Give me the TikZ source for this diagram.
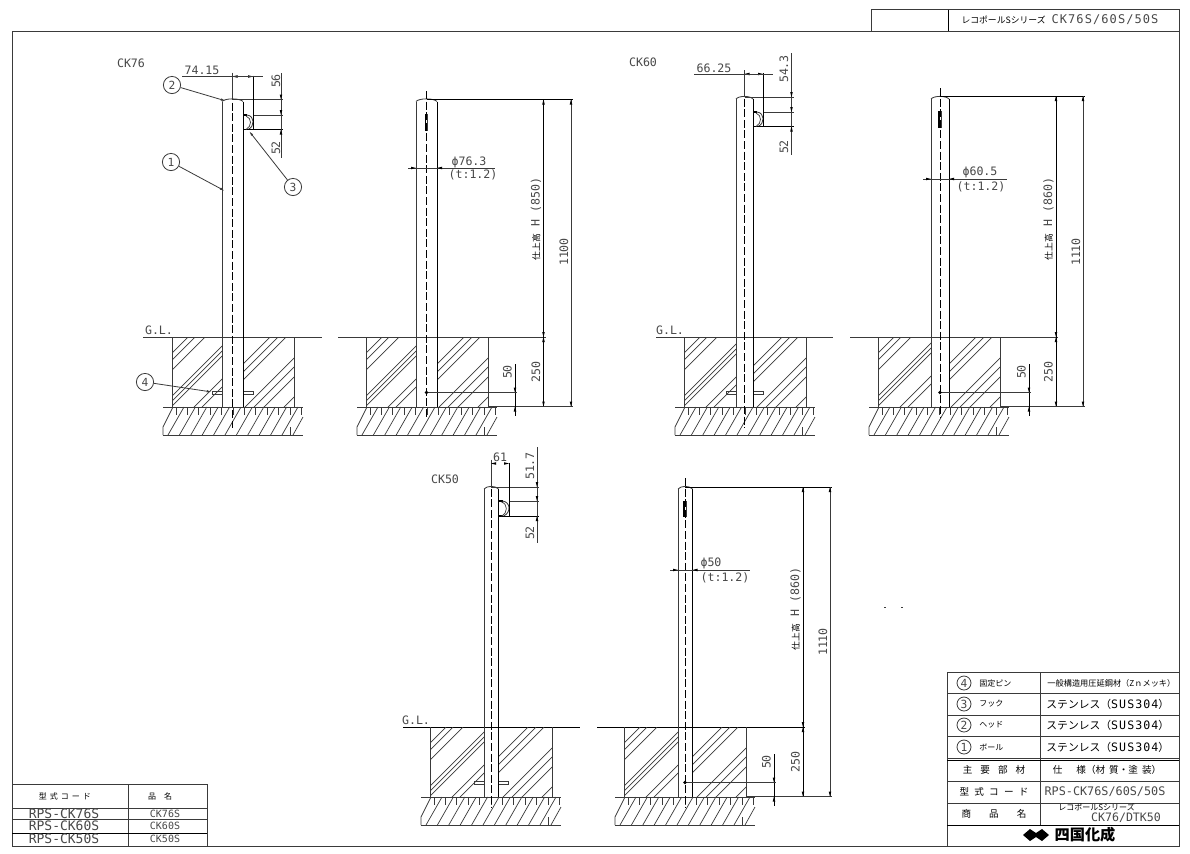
\documentclass[tikz,border=0pt]{standalone}
\usepackage{fontspec}
\usetikzlibrary{arrows.meta}
\setmainfont{DejaVu Sans Mono}
\newfontfamily\cjk{Noto Sans CJK JP}
\newfontfamily\wide[LetterSpace=9]{DejaVu Sans Mono}
\definecolor{ln}{HTML}{3A3A3A}
\definecolor{tx}{HTML}{484848}
\newcounter{tn}
\tikzset{
  base/.style={draw=ln,line width=0.42pt},
  dark/.style={draw=black,line width=0.42pt},
  thin line/.style={draw=ln,line width=0.35pt},
  chain/.style={draw=black,line width=0.5pt,dash pattern=on 4pt off 1.3pt},
  txt/.style={text=tx,inner sep=0pt,font=\fontsize{5.8}{6}\selectfont},
  small/.style={text=tx,inner sep=0pt,font=\fontsize{5}{5}\selectfont},
  jp/.style={text=black,inner sep=0pt,font=\cjk\fontsize{4.8}{5}\selectfont},
  jps/.style={text=black,inner sep=0pt,font=\cjk\fontsize{4}{4.6}\selectfont},
  balloon/.style={circle,draw=ln,line width=0.4pt,inner sep=0pt,minimum size=8.6pt,text=tx,font=\fontsize{5.6}{6}\selectfont},
  lead/.style={draw=ln,line width=0.4pt,-{Latex[length=2.6pt,width=1.2pt]}}
}
\newcommand\Txt[4]{\stepcounter{tn}\node[#3,name=t\arabic{tn}] at (#1,#2) {#4};}
\newcommand\ArrV[3]{\fill[black] (#1,#2) -- (#1-1.3,#2-#3*5) -- (#1+1.3,#2-#3*5) -- cycle;}
\newcommand\ArrH[3]{\fill[black] (#1,#2) -- (#1-#3*5,#2-1.3) -- (#1-#3*5,#2+1.3) -- cycle;}
% concrete block, hatching, ground: concL poleL poleR yGL
\newcommand\BaseB[4]{
  \begin{scope}
    \clip (#1,#4) rectangle (#2,#4+70);
    \foreach \s in {16,23,33,59,64,69,92,100}
      \draw[thin line] (#1+\s,#4) -- (#1,#4+\s);
  \end{scope}
  \begin{scope}
    \clip (#3,#4) rectangle (#1+122,#4+70);
    \foreach \s in {98,106,114,143,152,162,182}
      \draw[thin line] (#1+\s,#4) -- (#1+\s-80,#4+80);
  \end{scope}
  \draw[base] (#1,#4) -- (#1,#4+70) (#1+122,#4) -- (#1+122,#4+70);
  \draw[base] (#1-9,#4+70) -- (#1+131,#4+70);
  \draw[base] (#1-9,#4+98) -- (#1+131,#4+98);
  \draw[thin line] (#1-9,#4+98) -- (#1-9,#4+90) -- (#1+1,#4+70);
  \foreach \k in {0,...,10}
    \draw[thin line] (#1-4+\k*11.4,#4+98) -- (#1+12+\k*11.4,#4+70);
  \draw[thin line] (#1+121,#4+98) -- (#1+131,#4+80);
  \foreach \k in {0,...,11}
    \draw[thin line] (#1+4+\k*11.4,#4+70) -- (#1+4+\k*11.4,#4+78);
  \draw[thin line] (#1+118,#4+98) -- (#1+118,#4+90);
}
% pole: left right top bottom centreline-top centreline-bottom
\newcommand\PoleB[6]{
  \draw[base] (#1,#4) -- (#1,#3+2);
  \draw[dark] (#2,#4) -- (#2,#3+2);
  \draw[base] (#1,#3+2) .. controls (#1+3,#3-1.5) and (#2-3,#3-1.5) .. (#2,#3+2);
  \draw[chain] ({(#1+#2)/2},#5) -- ({(#1+#2)/2},#6);
}
% hook: poleR y1 y2 outerX
\newcommand\Hook[4]{
  \draw[black,line width=0.9pt] (#1,#2) -- (#1+4,#2) (#1,#3) -- (#1+4,#3);
  \draw[base] (#1+4,#2) .. controls (#4+2,#2+1) and (#4+2,#3-3) .. (#1+5,#3);
  \draw[thin line] (#1+3,#2+1) .. controls (#4-1,#2+3) and (#4-1,#3-3) .. (#1+3,#3);
}
% pins: poleL poleR y
\newcommand\Pins[3]{
  \draw[thin line] (#1,#3) -- (#1-10,#3) -- (#1-10,#3+3) -- (#1,#3+3);
  \draw[thin line] (#2,#3) -- (#2+10,#3) -- (#2+10,#3+3) -- (#2,#3+3);
}
% hook-side dims: cx xh ytop y1 y2 ydim xv yvtop yvbot
\newcommand\HookDims[9]{
  \draw[base] (#1,#3) -- (#7+2,#3);
  \draw[thin line] (#2+1,#4) -- (#7+2,#4);
  \draw[dark] (#2-6,#5) -- (#7+2,#5);
  \draw[dark] (#2,#6-1) -- (#2,#5);
  \draw[thin line] (#1,#6-4) -- (#1,#3);
  \draw[base] (#7,#8) -- (#7,#9);
  \ArrV{#7}{#3}{1}\ArrV{#7}{#4}{1}\ArrV{#7}{#5}{-1}
  \ArrH{#1}{#6}{-1}\ArrH{#2}{#6}{1}
}
% side dims: cx ytop yGL x50 xH xT concR Htext total
\newcommand\SideDims[9]{
  \draw[dark] (#1,#2) -- (#6+2,#2);
  \draw[dark] (#5,#2) -- (#5,#3+69.5);
  \draw[base] (#6,#2) -- (#6,#3+69.5);
  \draw[base] (#7,#3+69.5) -- (#6+2,#3+69.5);
  \draw[dark] (#4,#3+27) -- (#4,#3+79);
  \draw[base] (#1,#3+55.5) -- (#4+2,#3+55.5);
  \fill[black] (#1,#3+55.5) circle (1.8);
  \ArrV{#5}{#2}{-1}\ArrV{#6}{#2}{-1}\ArrV{#5}{#3}{1}\ArrV{#5}{#3}{-1}
  \ArrV{#5}{#3+69.5}{1}\ArrV{#6}{#3+69.5}{1}
  \ArrV{#4}{#3+55.5}{1}\ArrV{#4}{#3+69.5}{-1}
  \Txt{#4-7.5}{#3+35}{txt,rotate=90}{50}
  \Txt{#5-7.5}{#3+35}{txt,rotate=90}{250}
  \Txt{#5-7.5}{#3-118}{txt,rotate=90}{{\cjk\color{black}\fontsize{4.4}{4.4}\selectfont 仕上高} H (#8)}
  \Txt{#6-7}{#3-85}{txt,rotate=90}{#9}
}
% diameter dim: l r y xEnd
\newcommand\DiaDim[4]{
  \draw[base] (#1-8,#3) -- (#4,#3);
  \ArrH{#1}{#3}{1}\ArrH{#2}{#3}{-1}
}
% slot: cx ytop ybot
\newcommand\Slot[3]{
  \draw[black,line width=0.7pt] (#1-1,#2) -- (#1-1,#3);
  \draw[thin line] (#1+1,#2) -- (#1+1,#3);
}
\begin{document}
\begin{tikzpicture}[x=0.5pt,y=-0.5pt]
\useasboundingbox (0,0) rectangle (1190,853);
\fill[white] (0,0) rectangle (1190,853);
% frame and title
\draw[base] (12,31) rectangle (1179,846);
\draw[base] (871,9.5) rectangle (1179,31);
\draw[dark] (948,9.5) -- (948,31);
\Txt{1060}{20}{small}{{\cjk\color{black}\fontsize{4.4}{5}\selectfont レコポールSシリーズ}\hspace{3pt}{\wide\fontsize{6}{6}\selectfont CK76S/60S/50S}}

% CK76 front
\Txt{131}{63}{txt}{CK76}
\draw[base] (143,337) -- (322,337);
\Txt{159}{330}{txt}{G.L.}
\BaseB{172}{222}{243}{337}
\Pins{222}{243}{391}
\PoleB{222}{243}{99.5}{407}{92}{428}
\Hook{243}{115}{129.5}{253}
\HookDims{232.5}{253}{99.5}{115}{129.5}{76.5}{281}{73}{158}
\draw[base] (182,76.5) -- (263,76.5);
\Txt{202}{70}{txt}{74.15}
\Txt{276}{81}{txt,rotate=90}{56}
\Txt{276}{148}{txt,rotate=90}{52}
\node[balloon] (b2) at (172,85) {2};
\node[balloon] (b1) at (171,162) {1};
\node[balloon] (b3) at (293,187) {3};
\node[balloon] (b4) at (145,382) {4};
\coordinate (p2) at (226,101);
\coordinate (p1) at (225,191);
\coordinate (p3) at (249,131);
\coordinate (p4) at (212,392);
\draw[lead] (b2) -- (p2);
\draw[lead] (b1) -- (p1);
\draw[lead] (b3) -- (p3);
\draw[lead] (b4) -- (p4);

% CK76 side
\draw[base] (338,337) -- (546,337);
\BaseB{366}{416}{437}{337}
\PoleB{416}{437}{99.5}{407}{91}{418}
\Slot{426.5}{114}{131}
\SideDims{426.5}{99.5}{337}{515}{543.5}{571}{488}{850}{1100}
\DiaDim{416}{437}{168}{495}
\Txt{469}{162}{txt}{ϕ76.3}
\Txt{473}{175}{txt}{(t:1.2)}

% CK60 front
\Txt{643}{62}{txt}{CK60}
\draw[base] (656,337) -- (833,337);
\Txt{670}{330}{txt}{G.L.}
\BaseB{684}{736}{753}{337}
\Pins{736}{753}{391}
\PoleB{736}{753}{97}{407}{88}{428}
\Hook{753}{112}{126.5}{763}
\HookDims{744.5}{763}{97}{112}{126.5}{74}{791.5}{53}{155}
\draw[base] (694,74) -- (773,74);
\Txt{714}{68}{txt}{66.25}
\Txt{784}{69}{txt,rotate=90}{54.3}
\Txt{784}{147}{txt,rotate=90}{52}

% CK60 side
\draw[base] (850,337) -- (1058,337);
\BaseB{878}{931}{949}{337}
\PoleB{931}{949}{97}{407}{88}{418}
\Slot{940}{111}{128}
\SideDims{940}{96}{337}{1029}{1056}{1083}{1000}{860}{1110}
\DiaDim{931}{949}{179}{1007}
\Txt{980}{172}{txt}{ϕ60.5}
\Txt{981}{187}{txt}{(t:1.2)}

% CK50 front
\Txt{445}{479}{txt}{CK50}
\draw[dark] (403,727) -- (580,727);
\Txt{416}{720}{txt}{G.L.}
\BaseB{430}{484}{498.5}{727}
\Pins{484}{498.5}{781.5}
\PoleB{484}{498.5}{487}{797}{478}{808}
\Hook{498.5}{501}{516}{509}
\HookDims{491}{509}{487}{501}{516}{463.5}{537}{447}{543}
\Txt{500}{457}{txt}{61}
\Txt{530}{466}{txt,rotate=90}{51.7}
\Txt{530}{533}{txt,rotate=90}{52}

% CK50 side
\draw[dark] (597,727) -- (805,727);
\BaseB{624}{678}{692.5}{727}
\PoleB{678}{692.5}{487}{797}{478}{808}
\Slot{685}{501}{517}
\SideDims{685}{487}{727}{774}{803}{830}{746}{860}{1110}
\DiaDim{678}{692.5}{570}{750}
\Txt{711}{563}{txt}{ϕ50}
\Txt{725}{578}{txt}{(t:1.2)}

% specks
\fill[ln] (884,607) rectangle (886,608);
\fill[ln] (901,607) rectangle (903,608);

% parts list
\draw[base] (947,672) -- (1179,672);
\draw[base] (947,672) -- (947,846);
\draw[base] (1040.5,672) -- (1040.5,825);
\foreach \y in {693,715,736,758,781,803}
  \draw[base] (947,\y) -- (1179,\y);
\draw[dark] (947,760) -- (1179,760);
\draw[dark] (947,825) -- (1179,825);
\node[balloon,minimum size=7pt] (r4) at (964,683) {4};
\node[balloon,minimum size=7pt] (r3) at (964,704) {3};
\node[balloon,minimum size=7pt] (r2) at (964,725) {2};
\node[balloon,minimum size=7pt] (r1) at (964,747) {1};
\Txt{979}{683}{jps,anchor=west}{固定ピン}
\Txt{979}{704}{jps,anchor=west}{フック}
\Txt{979}{725}{jps,anchor=west}{ヘッド}
\Txt{979}{747}{jps,anchor=west}{ボール}
\Txt{1047}{683}{jps,anchor=west,font=\cjk\fontsize{4.1}{4.6}\selectfont}{一般構造用圧延鋼材（Zｎメッキ）}
\Txt{1046}{704}{jp,anchor=west,font=\cjk\fontsize{5.4}{6}\selectfont}{ステンレス（{\wide\fontsize{5.8}{6}\selectfont SUS304}）}
\Txt{1046}{725}{jp,anchor=west,font=\cjk\fontsize{5.4}{6}\selectfont}{ステンレス（{\wide\fontsize{5.8}{6}\selectfont SUS304}）}
\Txt{1046}{747}{jp,anchor=west,font=\cjk\fontsize{5.4}{6}\selectfont}{ステンレス（{\wide\fontsize{5.8}{6}\selectfont SUS304}）}
\Txt{994}{770}{jp}{主\hspace{4pt}要\hspace{4pt}部\hspace{4pt}材}
\Txt{1107}{770}{jp}{仕\hspace{7pt}様（材\hspace{2pt}質・塗\hspace{2pt}装）}
\Txt{994}{792}{jp}{型\hspace{2.6pt}式\hspace{2.6pt}コ\hspace{2.6pt}ー\hspace{2.6pt}ド}
\Txt{1105}{792}{txt,font=\fontsize{5.9}{6}\selectfont}{RPS-CK76S/60S/50S}
\Txt{994}{814}{jp}{商\hspace{9pt}品\hspace{9pt}名}
\Txt{1058}{807}{jps,anchor=west}{レコポールSシリーズ}
\Txt{1126}{818}{txt}{CK76/DTK50}
\fill[black] (1023,835) -- (1030,829) -- (1036,833) -- (1042,829) -- (1049,835) -- (1042,841) -- (1036,837) -- (1030,841) -- cycle;
\Txt{1085}{835}{jp,font=\cjk\bfseries\fontsize{7.6}{8}\selectfont}{四国化成}

% model table
\draw[base] (12,784) -- (207,784) -- (207,846);
\draw[base] (128,784) -- (128,846);
\draw[base] (12,808) -- (207,808);
\draw[base] (12,819.5) -- (207,819.5);
\draw[dark] (12,833) -- (207,833);
\Txt{65}{796}{jps}{型\hspace{1.5pt}式\hspace{1.5pt}コ\hspace{1.5pt}ー\hspace{1.5pt}ド}
\Txt{160}{796}{jps}{品\hspace{4pt}名}
\Txt{64}{814}{txt,font=\fontsize{6.5}{6}\selectfont}{RPS-CK76S}
\Txt{64}{826}{txt,font=\fontsize{6.5}{6}\selectfont}{RPS-CK60S}
\Txt{64}{839}{txt,font=\fontsize{6.5}{6}\selectfont}{RPS-CK50S}
\Txt{165}{814}{small}{CK76S}
\Txt{165}{826}{small}{CK60S}
\Txt{165}{839}{small}{CK50S}
\end{tikzpicture}
\end{document}
